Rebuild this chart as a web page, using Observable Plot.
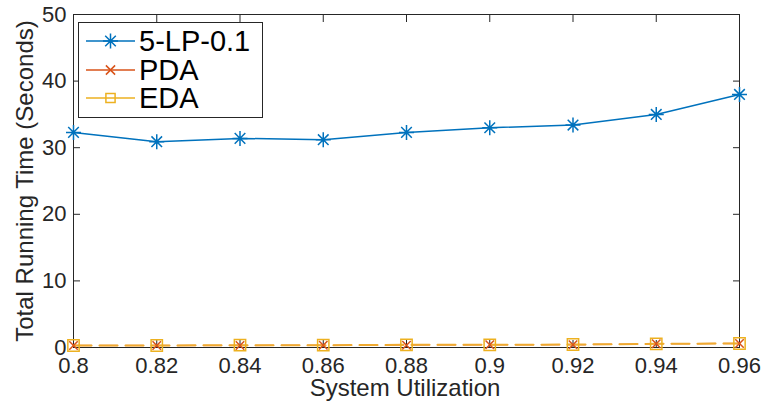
<!DOCTYPE html>
<html>
<head>
<meta charset="utf-8">
<script src="https://cdn.jsdelivr.net/npm/d3@7"></script>
<script src="https://cdn.jsdelivr.net/npm/@observablehq/plot@0.6"></script>
<style>
  html, body { margin: 0; padding: 0; background: #fff; }
  #chart { width: 763px; height: 404px; }
</style>
</head>
<body>
<div id="chart"></div>
<script>
// ---- data ----
const utilization = [0.8, 0.82, 0.84, 0.86, 0.88, 0.9, 0.92, 0.94, 0.96];
const lpValues  = [32.3, 30.9, 31.4, 31.2, 32.3, 33.0, 33.4, 35.0, 38.0];
const pdaValues = [0.3, 0.3, 0.3, 0.35, 0.35, 0.4, 0.4, 0.55, 0.6];
const edaValues = [0.3, 0.3, 0.35, 0.35, 0.4, 0.4, 0.45, 0.55, 0.6];
const seriesNames = ["5-LP-0.1", "PDA", "EDA"];
const xTicks = [0.8, 0.82, 0.84, 0.86, 0.88, 0.9, 0.92, 0.94, 0.96];
const yTicks = [0, 10, 20, 30, 40, 50];
const xLabel = "System Utilization";
const yLabel = "Total Running Time (Seconds)";

const colors = ["#0072BD", "#D95319", "#EDB120"];
const axisColor = "#262626";

// custom MATLAB-like symbols
const asterisk = {draw(ctx, size) {
  const r = Math.sqrt(size / Math.PI), d = r * 0.7071;
  ctx.moveTo(-r, 0); ctx.lineTo(r, 0);
  ctx.moveTo(0, -r); ctx.lineTo(0, r);
  ctx.moveTo(-d, -d); ctx.lineTo(d, d);
  ctx.moveTo(-d, d); ctx.lineTo(d, -d);
}};
const times = {draw(ctx, size) {
  const r = Math.sqrt(size / Math.PI) * 0.7071;
  ctx.moveTo(-r, -r); ctx.lineTo(r, r);
  ctx.moveTo(-r, r); ctx.lineTo(r, -r);
}};
const square = {draw(ctx, size) {
  const r = Math.sqrt(size / Math.PI) * 0.7071;
  ctx.rect(-r, -r, 2 * r, 2 * r);
}};

const table = [];
[lpValues, pdaValues, edaValues].forEach((vals, si) => {
  vals.forEach((v, i) => table.push({series: seriesNames[si], x: utilization[i], y: v}));
});
const bySeries = name => table.filter(d => d.series === name);

const fmt = d => String(+d.toFixed(2));

const chart = Plot.plot({
  width: 763,
  height: 404,
  marginLeft: 73,
  marginRight: 24,
  marginTop: 14,
  marginBottom: 57,
  style: {fontFamily: "'Liberation Sans', Arial, sans-serif", fontSize: "22px", color: axisColor, background: "#fff"},
  x: {domain: [0.8, 0.96]},
  y: {domain: [0, 50]},
  marks: [
    Plot.frame({stroke: axisColor, strokeWidth: 1}),
    Plot.axisX({ticks: xTicks, tickSize: 0, tickPadding: 10, tickFormat: fmt, label: null, fill: axisColor}),
    Plot.axisX({ticks: xTicks, tickSize: -7, tickFormat: () => "", label: null, stroke: axisColor}),
    Plot.axisX({anchor: "top", ticks: xTicks, tickSize: -7, tickFormat: () => "", label: null, stroke: axisColor}),
    Plot.axisY({ticks: yTicks, tickSize: 0, tickPadding: 7, label: null, fill: axisColor}),
    Plot.axisY({ticks: yTicks, tickSize: -7, tickFormat: () => "", label: null, stroke: axisColor}),
    Plot.axisY({anchor: "right", ticks: yTicks, tickSize: -7, tickFormat: () => "", label: null, stroke: axisColor}),
    // lines
    Plot.line(bySeries("5-LP-0.1"), {x: "x", y: "y", stroke: colors[0], strokeWidth: 1.5}),
    Plot.line(bySeries("PDA"), {x: "x", y: "y", stroke: colors[1], strokeWidth: 1.5, strokeDasharray: "18,8", strokeOpacity: 0.6}),
    Plot.line(bySeries("EDA"), {x: "x", y: "y", stroke: "#F0AA30", strokeWidth: 2, strokeDasharray: "18,8"}),
    // markers
    Plot.dot(bySeries("5-LP-0.1"), {x: "x", y: "y", symbol: () => asterisk, stroke: colors[0], fill: "none", r: 7.5, strokeWidth: 1.5}),
    Plot.dot(bySeries("PDA"), {x: "x", y: "y", symbol: () => times, stroke: colors[1], fill: "none", r: 6, strokeWidth: 1.5}),
    Plot.dot(bySeries("EDA"), {x: "x", y: "y", symbol: () => square, stroke: colors[2], fill: "none", r: 8, strokeWidth: 1.5})
  ]
});

document.getElementById("chart").appendChild(chart);

// labels and legend
const svg = d3.select(chart);
svg.append("text")
  .attr("x", 405).attr("y", 396)
  .attr("text-anchor", "middle")
  .attr("fill", axisColor)
  .style("font-size", "24px")
  .text(xLabel);
svg.append("text")
  .attr("transform", "translate(33,181) rotate(-90)")
  .attr("text-anchor", "middle")
  .attr("fill", axisColor)
  .style("font-size", "24px")
  .text(yLabel);

const lg = svg.append("g");
lg.append("rect")
  .attr("x", 78.5).attr("y", 22.5).attr("width", 184).attr("height", 95)
  .attr("fill", "#fff").attr("stroke", axisColor).attr("stroke-width", 1);
const symbols = [asterisk, times, square];
const legendR = [7.5, 6.5, 6.5];
const rowsY = [41, 70, 98];
seriesNames.forEach((name, i) => {
  const y = rowsY[i];
  lg.append("line").attr("x1", 86).attr("x2", 135).attr("y1", y).attr("y2", y)
    .attr("stroke", colors[i]).attr("stroke-width", 1.5);
  const rr = legendR[i];
  lg.append("path")
    .attr("transform", `translate(110.5,${y})`)
    .attr("d", d3.symbol(symbols[i], rr * rr * Math.PI)())
    .attr("fill", "none").attr("stroke", colors[i]).attr("stroke-width", 1.5);
  lg.append("text")
    .attr("x", 139).attr("y", y).attr("dy", "0.36em")
    .attr("text-anchor", "start")
    .attr("fill", "#000")
    .style("font-size", "29px")
    .text(name);
});
</script>
</body>
</html>
